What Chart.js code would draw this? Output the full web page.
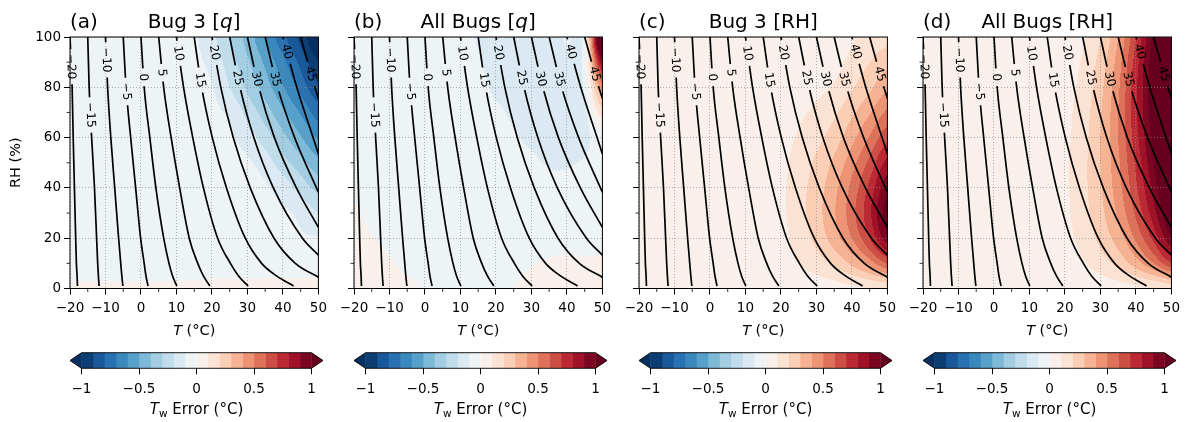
<!DOCTYPE html>
<html>
<head>
<meta charset="utf-8">
<script src="https://cdn.jsdelivr.net/npm/chart.js@4.4.1/dist/chart.umd.min.js"></script>
<style>
  html, body { margin: 0; padding: 0; background: #fff; }
  #wrap { position: relative; width: 1195px; height: 422px; overflow: hidden; }
  #wrap canvas { position: absolute; }
</style>
</head>
<body>
<div id="wrap"></div>
<script>
// ---- field grid: columns are T (°C), rows are RH (%) from 0 to 100 ----
const tempCols = [-20, -15, -10, -5, 0, 5, 10, 15, 20, 25, 30, 35, 40, 45, 50];
const rhRows = [0, 10, 20, 30, 40, 50, 60, 70, 80, 90, 100];

// Tw error (°C)
const errBug3Q = [
  [0.01, 0.01, 0.01, 0.01, 0.01, 0.01, 0.01, 0.015, 0.02, 0.02, 0.02, 0.025, 0.03, 0.03, 0.03],
  [-0.03, -0.03, -0.03, -0.03, -0.03, -0.03, -0.03, -0.035, -0.04, -0.04, -0.04, -0.045, -0.05, -0.05, -0.05],
  [-0.03, -0.03, -0.03, -0.03, -0.03, -0.035, -0.04, -0.04, -0.05, -0.05, -0.06, -0.07, -0.08, -0.09, -0.095],
  [-0.03, -0.03, -0.03, -0.03, -0.03, -0.04, -0.04, -0.05, -0.06, -0.07, -0.075, -0.08, -0.085, -0.125, -0.2],
  [-0.03, -0.03, -0.03, -0.035, -0.04, -0.04, -0.045, -0.05, -0.055, -0.06, -0.07, -0.088, -0.145, -0.24, -0.33],
  [-0.03, -0.03, -0.035, -0.04, -0.04, -0.045, -0.05, -0.055, -0.06, -0.07, -0.085, -0.15, -0.26, -0.36, -0.47],
  [-0.03, -0.03, -0.035, -0.04, -0.045, -0.05, -0.055, -0.06, -0.07, -0.085, -0.15, -0.25, -0.37, -0.49, -0.61],
  [-0.03, -0.035, -0.04, -0.04, -0.045, -0.05, -0.055, -0.065, -0.08, -0.12, -0.23, -0.35, -0.48, -0.61, -0.75],
  [-0.03, -0.035, -0.04, -0.045, -0.05, -0.055, -0.06, -0.07, -0.095, -0.2, -0.32, -0.45, -0.59, -0.74, -0.88],
  [-0.03, -0.035, -0.04, -0.045, -0.05, -0.055, -0.065, -0.08, -0.13, -0.25, -0.38, -0.52, -0.67, -0.83, -0.99],
  [-0.03, -0.035, -0.04, -0.045, -0.05, -0.06, -0.07, -0.085, -0.175, -0.3, -0.44, -0.6, -0.77, -0.93, -1.12]
];
const errAllQ = [
  [0.06, 0.05, 0.04, 0.02, -0.01, -0.02, -0.02, -0.02, -0.02, 0.0, 0.02, 0.03, 0.03, 0.04, 0.04],
  [0.05, 0.03, 0.01, -0.02, -0.03, -0.03, -0.03, -0.03, -0.03, -0.02, -0.005, 0.01, 0.02, 0.02, 0.02],
  [0.03, 0.005, -0.02, -0.03, -0.04, -0.04, -0.04, -0.04, -0.04, -0.04, -0.04, -0.04, -0.045, -0.05, -0.05],
  [0.01, -0.02, -0.03, -0.04, -0.04, -0.04, -0.04, -0.05, -0.05, -0.05, -0.05, -0.05, -0.05, -0.05, -0.04],
  [-0.01, -0.03, -0.04, -0.04, -0.05, -0.05, -0.05, -0.05, -0.06, -0.06, -0.07, -0.08, -0.08, -0.07, -0.04],
  [-0.02, -0.03, -0.04, -0.05, -0.05, -0.05, -0.05, -0.06, -0.07, -0.08, -0.09, -0.105, -0.105, -0.09, -0.03],
  [-0.03, -0.03, -0.04, -0.05, -0.05, -0.05, -0.06, -0.07, -0.08, -0.095, -0.11, -0.12, -0.12, -0.13, -0.02],
  [-0.03, -0.03, -0.04, -0.05, -0.05, -0.06, -0.06, -0.08, -0.09, -0.11, -0.13, -0.14, -0.14, -0.12, 0.15],
  [-0.03, -0.04, -0.04, -0.05, -0.05, -0.06, -0.07, -0.085, -0.11, -0.13, -0.14, -0.14, -0.13, -0.08, 0.45],
  [-0.03, -0.04, -0.04, -0.05, -0.05, -0.06, -0.07, -0.095, -0.12, -0.13, -0.14, -0.13, -0.11, -0.04, 0.9],
  [-0.03, -0.04, -0.04, -0.05, -0.05, -0.06, -0.07, -0.105, -0.12, -0.13, -0.13, -0.12, -0.09, -0.01, 1.4]
];
const errBug3RH = [
  [0.01, 0.01, 0.01, 0.01, 0.01, 0.015, 0.02, 0.02, 0.03, 0.035, 0.045, 0.06, 0.08, 0.1, 0.12],
  [0.01, 0.01, 0.01, 0.02, 0.02, 0.03, 0.04, 0.05, 0.065, 0.1, 0.15, 0.22, 0.32, 0.45, 0.6],
  [0.01, 0.01, 0.02, 0.02, 0.03, 0.04, 0.05, 0.06, 0.075, 0.14, 0.23, 0.35, 0.5, 0.7, 0.95],
  [0.01, 0.01, 0.02, 0.02, 0.03, 0.04, 0.05, 0.06, 0.08, 0.16, 0.26, 0.39, 0.56, 0.78, 1.05],
  [0.01, 0.01, 0.02, 0.02, 0.03, 0.04, 0.05, 0.06, 0.08, 0.16, 0.25, 0.37, 0.53, 0.73, 0.97],
  [0.01, 0.01, 0.02, 0.02, 0.03, 0.04, 0.05, 0.06, 0.075, 0.14, 0.22, 0.32, 0.46, 0.63, 0.83],
  [0.01, 0.01, 0.02, 0.02, 0.03, 0.04, 0.045, 0.055, 0.07, 0.11, 0.17, 0.25, 0.37, 0.51, 0.67],
  [0.01, 0.01, 0.02, 0.02, 0.03, 0.035, 0.04, 0.05, 0.06, 0.085, 0.12, 0.18, 0.28, 0.39, 0.52],
  [0.01, 0.01, 0.02, 0.02, 0.025, 0.03, 0.035, 0.04, 0.05, 0.06, 0.08, 0.11, 0.19, 0.28, 0.38],
  [0.01, 0.01, 0.015, 0.02, 0.025, 0.03, 0.03, 0.035, 0.04, 0.05, 0.06, 0.07, 0.13, 0.2, 0.27],
  [0.01, 0.01, 0.015, 0.02, 0.02, 0.025, 0.03, 0.03, 0.035, 0.04, 0.045, 0.05, 0.09, 0.13, 0.17]
];
const errAllRH = [
  [0.01, 0.01, 0.01, 0.01, 0.01, 0.015, 0.02, 0.02, 0.03, 0.035, 0.045, 0.06, 0.08, 0.1, 0.13],
  [0.01, 0.01, 0.01, 0.02, 0.02, 0.03, 0.04, 0.045, 0.055, 0.09, 0.15, 0.23, 0.35, 0.5, 0.68],
  [0.01, 0.01, 0.02, 0.02, 0.03, 0.04, 0.05, 0.06, 0.075, 0.13, 0.23, 0.35, 0.52, 0.73, 0.98],
  [0.01, 0.01, 0.02, 0.02, 0.03, 0.04, 0.05, 0.06, 0.08, 0.16, 0.27, 0.42, 0.62, 0.86, 1.12],
  [0.01, 0.01, 0.02, 0.02, 0.03, 0.04, 0.05, 0.06, 0.085, 0.17, 0.29, 0.46, 0.68, 0.94, 1.22],
  [0.01, 0.01, 0.02, 0.02, 0.03, 0.04, 0.05, 0.06, 0.085, 0.17, 0.3, 0.48, 0.72, 1.0, 1.3],
  [0.01, 0.01, 0.02, 0.02, 0.03, 0.04, 0.05, 0.06, 0.08, 0.16, 0.3, 0.5, 0.76, 1.05, 1.35],
  [0.01, 0.01, 0.02, 0.02, 0.03, 0.035, 0.045, 0.055, 0.075, 0.15, 0.29, 0.5, 0.78, 1.08, 1.38],
  [0.01, 0.01, 0.02, 0.02, 0.025, 0.03, 0.04, 0.05, 0.07, 0.13, 0.27, 0.48, 0.78, 1.1, 1.4],
  [0.01, 0.01, 0.015, 0.02, 0.025, 0.03, 0.04, 0.05, 0.065, 0.11, 0.24, 0.45, 0.75, 1.08, 1.4],
  [0.01, 0.01, 0.015, 0.02, 0.02, 0.03, 0.035, 0.045, 0.06, 0.09, 0.2, 0.4, 0.7, 1.05, 1.4]
];

// ---- wet-bulb isolines: T (°C) where each Tw level crosses these RH values ----
const twLevels = [-20, -15, -10, -5, 0, 5, 10, 15, 20, 25, 30, 35, 40, 45];
const lineRH = [100, 80, 60, 40, 20, 10, 5, 1];
const lineT = [
  [-20, -19.4, -19.1, -18.75, -18.4, -18.2, -18.0, -17.9],
  [-15, -14.6, -13.9, -13.1, -12.5, -12.2, -12.0, -11.8],
  [-10, -9.4, -8.5, -7.4, -6.3, -5.7, -5.4, -5.1],
  [-5, -4.2, -2.9, -1.5, -0.1, 0.9, 1.4, 2.0],
  [0, 0.9, 2.5, 4.2, 6.4, 7.9, 8.9, 10.1],
  [5, 6.4, 8.5, 10.9, 13.6, 16.0, 17.6, 19.4],
  [10, 12.0, 14.6, 17.6, 21.6, 25.2, 27.5, 30.2],
  [15, 17.1, 20.1, 24.1, 29.4, 34.0, 38.2, 43.0],
  [20, 22.5, 26.0, 30.8, 37.5, 43.5, null, null],
  [25, 27.9, 31.8, 37.3, 45.5, null, null, null],
  [30, 33.2, 37.6, 43.8, null, null, null, null],
  [35, 38.5, 43.3, null, null, null, null, null],
  [40, 43.9, 48.5, null, null, null, null, null],
  [45, 49.0, null, null, null, null, null, null]
];
// RH where a line leaves through the right edge (T = 50)
const edgeRH = [null, null, null, null, null, null, null, null, 4.5, 13.3, 24.3, 38.3, 53.5, 75.6];
// RH at which each inline label sits
const labelRH = [88.2, 69.0, 90.9, 78.3, 84.0, 85.8, 93.5, 82.9, 93.8, 83.8, 83.3, 83.2, 94.2, 85.3];

// ---- axes & colour bar ----
const tTicks = [-20, -10, 0, 10, 20, 30, 40, 50];
const tMinor = [-15, -5, 5, 15, 25, 35, 45];
const rhTicks = [0, 20, 40, 60, 80, 100];
const rhMinor = [10, 30, 50, 70, 90];
const cbEdges = [-1, -0.9, -0.8, -0.7, -0.6, -0.5, -0.4, -0.3, -0.2, -0.1, 0, 0.1, 0.2, 0.3, 0.4, 0.5, 0.6, 0.7, 0.8, 0.9, 1];
const cbTicks = [-1, -0.5, 0, 0.5, 1];

const panelTags = ['(a)', '(b)', '(c)', '(d)'];
const panelNames = [['Bug 3 [', 'q', ']'], ['All Bugs [', 'q', ']'], ['Bug 3 [RH]', '', ''], ['All Bugs [RH]', '', '']];
const panelFields = [errBug3Q, errAllQ, errBug3RH, errAllRH];
const canvasLefts = [0, 284, 569, 853];

const FONT = '"DejaVu Sans"';
const wrap = document.getElementById('wrap');

// RdBu_r
const rdbuR = ['#053061', '#2166ac', '#4393c3', '#92c5de', '#d1e5f0', '#f7f7f7',
  '#fddbc7', '#f4a582', '#d6604d', '#b2182b', '#67001f'].map(h =>
  [parseInt(h.slice(1, 3), 16), parseInt(h.slice(3, 5), 16), parseInt(h.slice(5, 7), 16)]);

function cmap(t) {
  t = Math.max(0, Math.min(1, t));
  const s = t * (rdbuR.length - 1);
  const i = Math.min(rdbuR.length - 2, Math.floor(s));
  const f = s - i, a = rdbuR[i], b = rdbuR[i + 1];
  return [a[0] + (b[0] - a[0]) * f, a[1] + (b[1] - a[1]) * f, a[2] + (b[2] - a[2]) * f].map(Math.round);
}
const nBins = cbEdges.length - 1;
const binColors = cbEdges.slice(0, -1).map((_, k) => cmap((k + 0.5) / nBins));
const underColor = cmap(0), overColor = cmap(1);
const rgb = c => `rgb(${c[0]},${c[1]},${c[2]})`;

function colorFor(v) {
  if (v < cbEdges[0]) return underColor;
  if (v >= cbEdges[nBins]) return overColor;
  for (let k = 0; k < nBins; k++) if (v < cbEdges[k + 1]) return binColors[k];
  return overColor;
}

// smooth sampling of the gridded field (Catmull-Rom)
function cr(p0, p1, p2, p3, t) {
  return 0.5 * (2 * p1 + (-p0 + p2) * t + (2 * p0 - 5 * p1 + 4 * p2 - p3) * t * t + (-p0 + 3 * p1 - 3 * p2 + p3) * t * t * t);
}
function sampleField(grid, T, RH) {
  const nx = tempCols.length, ny = rhRows.length;
  const fx = (T - tempCols[0]) / (tempCols[1] - tempCols[0]);
  const fy = (RH - rhRows[0]) / (rhRows[1] - rhRows[0]);
  const ix = Math.max(0, Math.min(nx - 2, Math.floor(fx)));
  const iy = Math.max(0, Math.min(ny - 2, Math.floor(fy)));
  const tx = Math.max(0, Math.min(1, fx - ix)), ty = Math.max(0, Math.min(1, fy - iy));
  const cx = i => Math.max(0, Math.min(nx - 1, i));
  const cy = j => Math.max(0, Math.min(ny - 1, j));
  const rows = [];
  for (let j = iy - 1; j <= iy + 2; j++) {
    const r = grid[cy(j)];
    rows.push(cr(r[cx(ix - 1)], r[cx(ix)], r[cx(ix + 1)], r[cx(ix + 2)], tx));
  }
  return cr(rows[0], rows[1], rows[2], rows[3], ty);
}

const fmt = v => (v < 0 ? '\u2212' : '') + String(Math.abs(v));

function richText(ctx, parts, x, y, align) {
  let total = 0;
  parts.forEach(p => { ctx.font = p.font; p.w = ctx.measureText(p.text).width; total += p.w; });
  let cx = align === 'center' ? x - total / 2 : x;
  ctx.textAlign = 'left';
  ctx.textBaseline = 'alphabetic';
  parts.forEach(p => { ctx.font = p.font; ctx.fillText(p.text, cx, y + (p.dy || 0)); cx += p.w; });
}

function contourPoints(i) {
  const pts = [];
  lineRH.forEach((rh, j) => { if (lineT[i][j] !== null) pts.push({ x: lineT[i][j], y: rh }); });
  if (edgeRH[i] !== null) pts.push({ x: tempCols[tempCols.length - 1], y: edgeRH[i] });
  return pts;
}

const labelFont = '12px ' + FONT;
function labelBoxes(chart) {
  const ys = chart.scales.y;
  const ctx = chart.ctx;
  ctx.font = labelFont;
  return twLevels.map((lv, i) => {
    const pts = chart.getDatasetMeta(i).data;
    const yTarget = ys.getPixelForValue(labelRH[i]);
    for (let k = 0; k < pts.length - 1; k++) {
      const a = pts[k], b = pts[k + 1];
      if (yTarget >= a.y && yTarget <= b.y) {
        const f = (yTarget - a.y) / (b.y - a.y || 1);
        const text = fmt(lv);
        return { x: a.x + (b.x - a.x) * f, y: yTarget, ang: Math.atan2(b.y - a.y, b.x - a.x),
          text, w: ctx.measureText(text).width + 10, h: 11 };
      }
    }
    return null;
  }).filter(Boolean);
}

function makePanel(p) {
  const cv = document.createElement('canvas');
  cv.width = 333; cv.height = 345;
  cv.style.left = canvasLefts[p] + 'px'; cv.style.top = '0px';
  cv.style.width = '333px'; cv.style.height = '345px';
  wrap.appendChild(cv);
  const grid = panelFields[p];
  let boxes = [];

  const panelPlugin = {
    id: 'panel' + p,
    beforeDraw(chart) {
      const ctx = chart.ctx, a = chart.chartArea;
      const xs = chart.scales.x, ys = chart.scales.y;
      const x0 = Math.floor(a.left), y0 = Math.floor(a.top);
      const w = Math.ceil(a.right) - x0, h = Math.ceil(a.bottom) - y0;
      const img = ctx.createImageData(w, h);
      const Ts = [];
      for (let i = 0; i < w; i++) Ts.push(xs.getValueForPixel(x0 + i + 0.5));
      for (let j = 0; j < h; j++) {
        const RH = ys.getValueForPixel(y0 + j + 0.5);
        for (let i = 0; i < w; i++) {
          const c = colorFor(sampleField(grid, Ts[i], RH));
          const o = (j * w + i) * 4;
          img.data[o] = c[0]; img.data[o + 1] = c[1]; img.data[o + 2] = c[2]; img.data[o + 3] = 255;
        }
      }
      ctx.putImageData(img, x0, y0);
    },
    beforeDatasetsDraw(chart) {
      const ctx = chart.ctx, a = chart.chartArea;
      boxes = labelBoxes(chart);
      ctx.save();
      ctx.beginPath();
      ctx.rect(a.left - 5, a.top - 5, a.right - a.left + 10, a.bottom - a.top + 10);
      boxes.forEach(b => {
        const c = Math.cos(b.ang), s = Math.sin(b.ang), hw = b.w / 2, hh = b.h / 2;
        const q = [[-hw, -hh], [hw, -hh], [hw, hh], [-hw, hh]].map(([u, v]) => [b.x + u * c - v * s, b.y + u * s + v * c]);
        ctx.moveTo(q[0][0], q[0][1]);
        for (let k = 1; k < 4; k++) ctx.lineTo(q[k][0], q[k][1]);
        ctx.closePath();
      });
      ctx.clip('evenodd');
    },
    afterDatasetsDraw(chart) {
      const ctx = chart.ctx;
      ctx.restore();
      ctx.save();
      ctx.fillStyle = '#000';
      ctx.font = labelFont;
      ctx.textAlign = 'center';
      ctx.textBaseline = 'middle';
      boxes.forEach(b => {
        ctx.save();
        ctx.translate(b.x, b.y);
        ctx.rotate(b.ang);
        ctx.fillText(b.text, 0, 0.5);
        ctx.restore();
      });
      ctx.restore();
    },
    afterDraw(chart) {
      const ctx = chart.ctx, a = chart.chartArea;
      const xs = chart.scales.x, ys = chart.scales.y;
      ctx.save();
      ctx.strokeStyle = '#000';
      ctx.lineWidth = 0.8;
      ctx.beginPath();
      tMinor.forEach(v => { const x = xs.getPixelForValue(v); ctx.moveTo(x, a.bottom); ctx.lineTo(x, a.bottom + 3.5); });
      rhMinor.forEach(v => { const y = ys.getPixelForValue(v); ctx.moveTo(a.left - 3.5, y); ctx.lineTo(a.left, y); });
      ctx.stroke();
      ctx.lineWidth = 1;
      ctx.strokeRect(a.left, a.top, a.right - a.left, a.bottom - a.top);

      ctx.fillStyle = '#000';
      ctx.font = '20px ' + FONT;
      ctx.textAlign = 'left';
      ctx.textBaseline = 'alphabetic';
      ctx.fillText(panelTags[p], a.left, 27.7);
      const nm = panelNames[p];
      richText(ctx, [
        { text: nm[0], font: '20px ' + FONT },
        { text: nm[1], font: 'italic 20px ' + FONT },
        { text: nm[2], font: '20px ' + FONT }
      ], (a.left + a.right) / 2, 27.7, 'center');
      richText(ctx, [
        { text: 'T', font: 'italic 14.5px ' + FONT },
        { text: ' (\u00b0C)', font: '14.5px ' + FONT }
      ], (a.left + a.right) / 2, 335, 'center');
      if (p === 0) {
        ctx.translate(16, (a.top + a.bottom) / 2);
        ctx.rotate(-Math.PI / 2);
        ctx.font = '14.5px ' + FONT;
        ctx.textAlign = 'center';
        ctx.textBaseline = 'middle';
        ctx.fillText('RH (%)', 0, 0);
      }
      ctx.restore();
    }
  };

  const tickFont = { family: 'DejaVu Sans', size: 13.5 };
  const gridOpts = { color: 'rgba(140,140,140,0.85)', lineWidth: 0.8, tickColor: '#000', tickLength: 6, tickWidth: 1 };

  new Chart(cv, {
    type: 'line',
    data: {
      datasets: twLevels.map((lv, i) => ({
        label: 'Tw ' + lv,
        data: contourPoints(i),
        borderColor: '#000',
        borderWidth: 1.7,
        pointRadius: 0,
        fill: false,
        cubicInterpolationMode: 'monotone'
      }))
    },
    options: {
      responsive: false,
      animation: false,
      events: [],
      devicePixelRatio: 1,
      layout: { padding: { top: 37, right: 10, left: 0, bottom: 0 } },
      plugins: { legend: { display: false }, tooltip: { enabled: false } },
      scales: {
        x: {
          type: 'linear', min: -20, max: 50,
          afterBuildTicks: s => { s.ticks = tTicks.map(v => ({ value: v })); },
          afterFit: s => { s.height = 56.5; },
          ticks: { callback: fmt, font: tickFont, color: '#000', padding: 6, maxRotation: 0, autoSkip: false },
          grid: gridOpts,
          border: { display: false, dash: [1, 2] }
        },
        y: {
          type: 'linear', min: 0, max: 100,
          afterBuildTicks: s => { s.ticks = rhTicks.map(v => ({ value: v })); },
          afterFit: s => { s.width = 70; },
          ticks: { display: p === 0, callback: fmt, font: tickFont, color: '#000', padding: 3 },
          grid: gridOpts,
          border: { display: false, dash: [1, 2] }
        }
      }
    },
    plugins: [panelPlugin]
  });
}

function makeColorbar(p) {
  const cv = document.createElement('canvas');
  cv.width = 273; cv.height = 77;
  cv.style.left = (canvasLefts[p] + 60) + 'px'; cv.style.top = '345px';
  cv.style.width = '273px'; cv.style.height = '77px';
  wrap.appendChild(cv);
  const ext = 0.05 * (cbEdges[nBins] - cbEdges[0]);

  const cbPlugin = {
    id: 'cb' + p,
    afterDraw(chart) {
      const ctx = chart.ctx, a = chart.chartArea, xs = chart.scales.x;
      const xl = xs.getPixelForValue(cbEdges[0]), xr = xs.getPixelForValue(cbEdges[nBins]);
      const mid = (a.top + a.bottom) / 2;
      ctx.save();
      ctx.fillStyle = rgb(underColor);
      ctx.beginPath(); ctx.moveTo(xl, a.top); ctx.lineTo(a.left, mid); ctx.lineTo(xl, a.bottom); ctx.closePath(); ctx.fill();
      ctx.fillStyle = rgb(overColor);
      ctx.beginPath(); ctx.moveTo(xr, a.top); ctx.lineTo(a.right, mid); ctx.lineTo(xr, a.bottom); ctx.closePath(); ctx.fill();
      ctx.strokeStyle = '#000';
      ctx.lineWidth = 0.9;
      ctx.beginPath();
      ctx.moveTo(xl, a.top); ctx.lineTo(xr, a.top); ctx.lineTo(a.right, mid); ctx.lineTo(xr, a.bottom);
      ctx.lineTo(xl, a.bottom); ctx.lineTo(a.left, mid); ctx.closePath();
      ctx.stroke();
      ctx.fillStyle = '#000';
      richText(ctx, [
        { text: 'T', font: 'italic 15px ' + FONT },
        { text: 'w', font: '10.5px ' + FONT, dy: 3 },
        { text: ' Error (\u00b0C)', font: '15px ' + FONT }
      ], (a.left + a.right) / 2, 68.5, 'center');
      ctx.restore();
    }
  };

  new Chart(cv, {
    type: 'bar',
    data: {
      labels: [''],
      datasets: binColors.map((c, k) => ({
        label: fmt(cbEdges[k]),
        data: [[cbEdges[k], cbEdges[k + 1]]],
        backgroundColor: rgb(c),
        borderWidth: 0,
        grouped: false,
        barPercentage: 1,
        categoryPercentage: 1
      }))
    },
    options: {
      indexAxis: 'y',
      responsive: false,
      animation: false,
      events: [],
      devicePixelRatio: 1,
      layout: { padding: { top: 7.7, right: 10, left: 10, bottom: 0 } },
      plugins: { legend: { display: false }, tooltip: { enabled: false } },
      scales: {
        x: {
          type: 'linear', min: cbEdges[0] - ext, max: cbEdges[nBins] + ext,
          afterBuildTicks: s => { s.ticks = cbTicks.map(v => ({ value: v })); },
          afterFit: s => { s.height = 53.7; },
          ticks: { callback: fmt, font: { family: 'DejaVu Sans', size: 13.5 }, color: '#000', padding: 7, maxRotation: 0, autoSkip: false },
          grid: { drawOnChartArea: false, drawTicks: true, tickLength: 6, tickColor: '#000', tickWidth: 1 },
          border: { display: false }
        },
        y: { type: 'category', display: false }
      }
    },
    plugins: [cbPlugin]
  });
}

[0, 1, 2, 3].forEach(p => { makePanel(p); makeColorbar(p); });
</script>
</body>
</html>
